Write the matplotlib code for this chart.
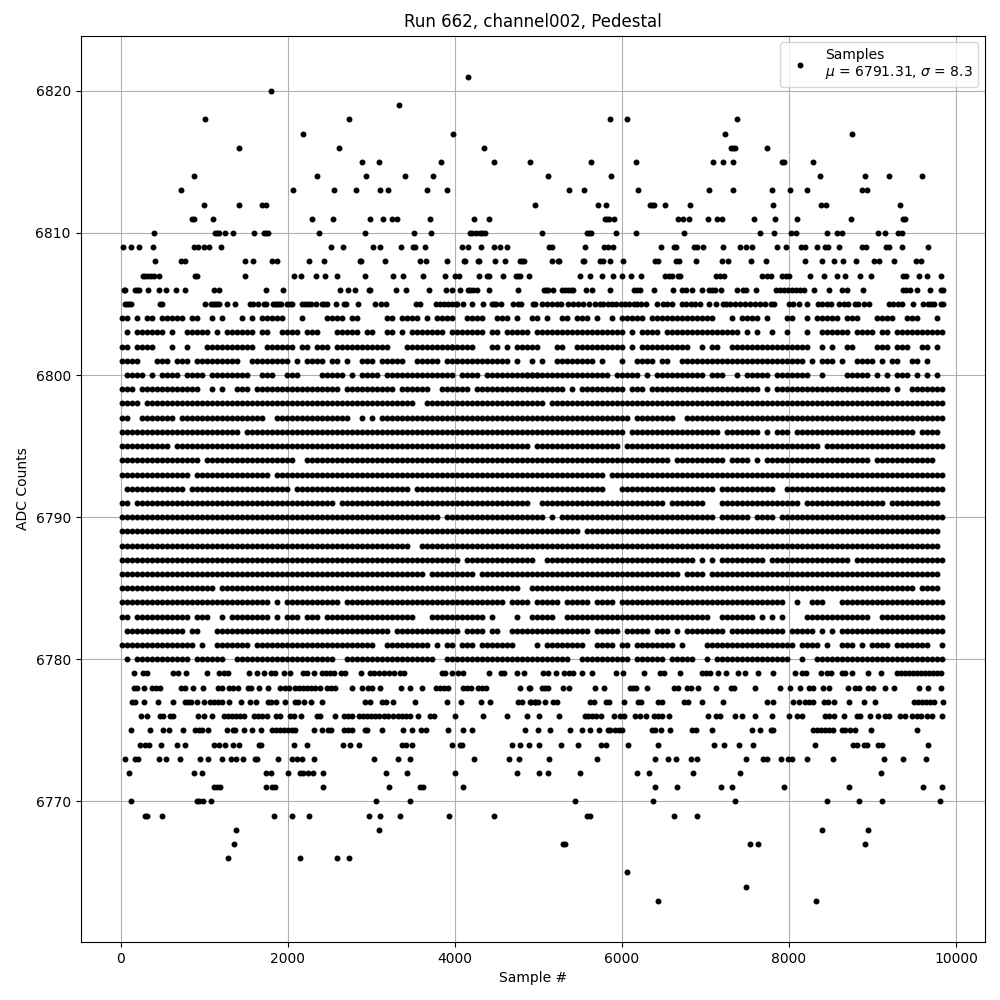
import matplotlib
matplotlib.use("Agg")
import matplotlib.pyplot as plt

title = "Run 662, channel002, Pedestal"
x_label = "Sample #"
y_label = "ADC Counts"
legend_label = "Samples\n$\\mu$ = 6791.31, $\\sigma$ = 8.3"

# Sparse ADC levels: sample numbers
s6821 = [4160]
s6820 = [1796]
s6819 = [3332]
s6818 = [1016, 2732, 5856, 6060, 7380]
s6817 = [2180, 3980, 7236, 8760]
s6816 = [1424, 2612, 4352, 7308, 7332, 7356, 7740]
s6815 = [2888, 3092, 3836, 4472, 4904, 5628, 6168, 7092, 7212, 7332, 7920, 7944, 8292]
s6814 = [884, 2348, 2936, 3404, 3740, 5112, 5868, 8376, 8916, 9192, 9588]
s6813 = [728, 2060, 2552, 2816, 3104, 3200, 3668, 3908, 5364, 5544, 6192, 7044, 7332, 7800, 8016, 8220, 8880, 8940]
s6812 = [1004, 1424, 1688, 1736, 4964, 5712, 5808, 6336, 6360, 6384, 6516, 6816, 7812, 8388, 8448, 9324]
s6811 = [860, 876, 1112, 2288, 2540, 2984, 3140, 3248, 3308, 3704, 4232, 4412, 5800, 5824, 5844, 5904, 6672,
         6732, 6804, 7032, 7140, 7200, 7584, 7836, 8100, 8748, 9360, 9384]
s6810 = [404, 1128, 1152, 1176, 1256, 1352, 1592, 1720, 1744, 1768, 2372, 2924, 3512, 3716, 4184, 4208, 4256, 4304,
         4328, 4364, 5040, 5580, 5604, 5628, 5928, 6168, 6744, 7656, 7824, 8028, 8088, 8460, 8580, 8640, 9072, 9156,
         9300, 9348]
s6809 = [32, 128, 224, 392, 884, 932, 1004, 1064, 1208, 2516, 2660, 3020, 3104, 3356, 3500, 3524, 3644, 4088, 4160,
         4316, 4472, 4544, 4628, 5124, 5160, 5556, 5784, 5832, 5892, 6468, 6624, 6648, 6864, 6900, 6972, 7212, 7416,
         7488, 7560, 7860, 7968, 8148, 8196, 8340, 8436, 8472, 8604, 8880, 8928, 9168, 9192, 9348, 9660]
s6808 = [416, 728, 776, 1484, 1580, 1808, 1868, 2252, 2432, 2864, 2876, 3164, 3584, 3656, 3908, 4112, 4124, 4280,
         4292, 4484, 4604, 4784, 4808, 4832, 5160, 5232, 5244, 5532, 5544, 5736, 5772, 5856, 6012, 6396, 6432, 6648,
         6684, 6888, 7200, 7272, 7548, 7728, 8196, 8400, 8544, 8652, 8808, 9024, 9084, 9252, 9516, 9576]
s6807 = [272, 296, 332, 368, 404, 464, 896, 920, 1484, 2072, 2156, 2336, 2444, 2588, 2924, 3260, 3380, 3620, 3884,
         4004, 4052, 4292, 4388, 4412, 4580, 4736, 4760, 4784, 4892, 5496, 5616, 5760, 5892, 6000, 6108, 6228, 6516,
         6564, 6600, 6672, 6696, 7128, 7176, 7224, 7680, 7740, 7788, 7920, 7968, 8004, 8256, 8424, 8580, 8676, 8856,
         8988, 9360, 9396, 9552, 9648, 9816]
s6806 = [44, 56, 176, 200, 224, 332, 464, 548, 668, 776, 1124, 1184, 1736, 1940, 2624, 2720, 2804, 2972, 2984, 3296,
         3416, 3692, 3896, 3968, 4064, 4160, 4184, 4220, 4268, 4412, 4760, 5064, 5088, 5112, 5172, 5280, 5316, 5352,
         5388, 5412, 5568, 5640, 5856, 6144, 6180, 6216, 6384, 6612, 6720, 6768, 6840, 6960, 7044, 7080, 7116, 7188,
         7380, 7452, 7488, 7608, 7848, 7896, 7944, 7992, 8040, 8088, 8136, 8184, 8304, 8484, 8640, 8700, 8892, 9360,
         9396, 9444, 9528, 9684, 9816, 9840]
s6805 = [56, 80, 104, 128, 476, 500, 1016, 1088, 1112, 1136, 1160, 1184, 1280, 1376, 1544, 1580, 1640, 1712, 1736,
         1820, 1844, 1868, 1892, 1916, 1988, 2024, 2048, 2168, 2204, 2240, 2276, 2336, 2408, 2432, 2468, 2576, 2672,
         2696, 2840, 3044, 3116, 3176, 3536, 3584, 3776, 3824, 3872, 3920, 3968, 4016, 4032, 4100, 4208, 4340, 4448,
         4472, 4496, 4556, 4700, 4760, 4796, 4940, 4964, 5050, 5100, 5170, 5220, 5270, 5350, 5410, 5470, 5540, 5610,
         5680, 5740, 5780, 5830, 5880, 5930, 5990, 6040, 6090, 6140, 6180, 6230, 6290, 6420, 6490, 6540, 6600, 6720,
         6770, 6830, 6880, 6940, 7040, 7130, 7210, 7250, 7300, 7360, 7420, 7480, 7540, 7590, 7650, 7710, 7780, 7820,
         8000, 8050, 8120, 8220, 8350, 8400, 8450, 8500, 8600, 8660, 8710, 8790, 8830, 8900, 8960, 9200, 9250, 9300,
         9350, 9480, 9600, 9660, 9700, 9740, 9820, 9840]
s6779 = [164, 272, 320, 632, 692, 788, 1040, 1184, 1244, 1292, 1532, 1628, 1720, 1796, 1844, 1952, 2024, 2180, 2228,
         2312, 2408, 2456, 2504, 2552, 2636, 2684, 2876, 2984, 3032, 3092, 3152, 3212, 3272, 3344, 3392, 3848, 3884,
         3968, 4040, 4100, 4412, 4556, 4592, 4748, 4832, 5052, 5112, 5208, 5304, 5364, 5412, 5520, 5640, 5928, 6012,
         6264, 6456, 6504, 6696, 6960, 7008, 7056, 7152, 7248, 7392, 7476, 7632, 7812, 8076, 8160, 8208, 8388, 8460,
         8508, 8640, 8676, 8760, 8952, 9108, 9288, 9336, 9384, 9432, 9480, 9528, 9576, 9624, 9672, 9720, 9768, 9816]
s6778 = [164, 200, 284, 380, 428, 476, 728, 776, 872, 992, 1172, 1220, 1304, 1352, 1412, 1520, 1556, 1652, 1760, 1912,
         1964, 2012, 2084, 2132, 2180, 2228, 2276, 2324, 2384, 2468, 2516, 2564, 2768, 2888, 2960, 3008, 3104, 3356,
         3464, 3608, 3776, 3824, 3872, 3920, 4100, 4148, 4196, 4280, 4328, 4376, 4784, 4892, 4904, 5048, 5084, 5120,
         5292, 5364, 5676, 5784, 6096, 6132, 6168, 6300, 6624, 6672, 6780, 6828, 6912, 7128, 7308, 7344, 7596, 7896,
         8016, 8136, 8244, 8292, 8412, 8484, 8712, 8796, 8844, 8952, 9012, 9156, 9252, 9552, 9660, 9816]
s6777 = [140, 172, 280, 452, 632, 776, 812, 848, 920, 1004, 1076, 1124, 1172, 1220, 1304, 1448, 1544, 1616, 1760, 1796,
         1856, 1964, 2084, 2120, 2192, 2276, 2408, 2924, 2984, 3128, 3176, 3260, 3524, 3912, 4076, 4320, 4424, 4760,
         4808, 4904, 4964, 4908, 4956, 4992, 5076, 5172, 5220, 5616, 5664, 5808, 5844, 6024, 6192, 6228, 6432, 6480,
         6744, 6792, 6960, 7212, 7740, 7812, 8052, 8124, 8196, 8244, 8292, 8424, 8472, 8544, 8724, 8904, 9036, 9492,
         9540, 9588, 9636, 9684, 9732, 9840]
s6776 = [248, 320, 476, 512, 596, 632, 932, 1004, 1100, 1244, 1292, 1340, 1388, 1436, 1472, 1592, 1640, 1688, 1748,
         1856, 1904, 2024, 2072, 2156, 2348, 2384, 2564, 2672, 2720, 2768, 2852, 2900, 2948, 2996, 3044, 3092, 3152,
         3200, 3260, 3320, 3368, 3416, 3464, 3560, 3704, 3752, 4004, 4340, 4628, 4868, 5004, 5244, 5556, 5592, 5640,
         5688, 5748, 5904, 5976, 6024, 6156, 6216, 6288, 6384, 6432, 6480, 6564, 7032, 7128, 7176, 7356, 7440, 7596,
         7800, 8004, 8100, 8160, 8436, 8484, 8544, 8664, 8820, 8856, 8976, 9072, 9156, 9192, 9324, 9384, 9468, 9528,
         9576, 9648, 9708, 9828]
s6775 = [128, 356, 512, 584, 752, 896, 944, 980, 1052, 1280, 1352, 1376, 1472, 1568, 1676, 1808, 1856, 1904, 1952, 2000,
         2048, 2084, 2312, 2408, 2480, 2516, 2672, 2720, 2768, 2924, 2948, 3128, 3380, 3488, 3596, 3656, 3920, 4100,
         4208, 4844, 4992, 5136, 5376, 5520, 5616, 5724, 5832, 5856, 5916, 5964, 6000, 6360, 6396, 6468, 6576, 6840,
         6888, 7080, 7560, 7656, 7788, 7812, 8292, 8340, 8388, 8436, 8484, 8532, 8640, 8676, 8736, 8796, 8988, 9528]
s6774 = [236, 296, 344, 488, 680, 776, 1124, 1184, 1256, 1352, 1424, 1652, 1676, 2072, 2236, 2660, 2744, 2852, 3368,
         3416, 3488, 3968, 4064, 4088, 4688, 4784, 4892, 5012, 5268, 5472, 5748, 5808, 6072, 6432, 7104, 7224, 7404,
         7572, 8316, 8772, 8820, 8904, 8940, 9072, 9120, 9660]
s6773 = [56, 176, 212, 464, 548, 716, 956, 1052, 1220, 1328, 1388, 1460, 1604, 1628, 1880, 2048, 2108, 2168, 2316,
         3032, 3320, 3464, 4232, 4652, 4772, 5124, 5700, 6396, 6552, 6648, 6828, 6900, 7488, 7692, 7740, 7908, 7992,
         8040, 8220, 8532, 9144, 9360, 9636]
s6772 = [104, 884, 980, 1736, 1796, 2000, 2144, 2180, 2240, 2300, 2420, 3176, 3428, 4004, 4748, 5004, 5112, 5496, 6180,
         6324, 6852, 7416, 9108]
s6771 = [1124, 1160, 1196, 1736, 1808, 1844, 2420, 3212, 3584, 3620, 4100, 6396, 6660, 7188, 7320, 7944, 8724, 9600, 9828]
s6770 = [128, 920, 944, 992, 1088, 3056, 3464, 5436, 6372, 7356, 8460, 8844, 9120, 9804]
s6769 = [296, 312, 500, 1832, 2048, 2252, 2972, 3104, 3344, 3932, 4472, 5580, 5616, 6624, 6900]
s6768 = [1388, 3092, 8400, 8952]
s6767 = [1364, 5292, 5316, 7536, 7632, 8916]
s6766 = [1292, 2144, 2588, 2732]
s6765 = [6060]
s6764 = [7488]
s6763 = [6432, 8328]

# Dense ADC levels: occupied 60-sample bins
d6804 = "0 1 3 5-6 8-12 14-15 18 20 24 26 28-29 30-31 32 36 41-44 46-47 53-54 56-59 61 63 64-66 69-72 75-77 79 82-83 85 88-89 91-93 95 98 100-104 106 107-111 112-116 117-118 122 124-127 129 133-134 137 139-141 142-143 145-147 151-152 153-154 157-159 163"
d6803 = "1 3 4-6 7 8 10 13-14 15-17 19 21-26 28 29 32-35 37-39 43 44-47 49-50 53-54 56 58 59-64 66-69 70-72 74-75 77-81 83-85 86-87 88-91 92-97 98-100 102 104-107 109-123 125 127 130 133 137 140-145 147-150 152 153 155-156 157-164"
d6802 = "0-1 3-6 10 13 17-26 29-34 36-37 39-41 43-48 49-53 57-66 66-70 74-75 77 79-82 83 87 88 91-100 102 104-113 116 118-119 122-125 126-137 140 142 145-146 151 152-153 155-157 160-161 163"
d6801 = "0 1-3 7-8 9 11-12 13 15-16 17-19 20-22 23 26-28 29 30-33 35 37-39 40 42 43 45 48 49-50 52-55 56 59-63 65-70 71-75 76 77 79 82 84 87-94 96 100 103-104 105-106 108-109 112-121 122-126 127-136 138 140-142 144 147-150 152 154-155 158-159 161"
d6800 = "1-4 6 8-11 13-16 18-25 28-30 33 34-35 40-44 46 48-49 50-51 53-56 57-59 60-66 68-70 71 73-77 78-83 81-90 91-96 97 99-103 105 107-116 118-119 120 123 125-129 131-137 140 145-149 151 153 155-157 159 161 163"
d6799 = "0-2 4-8 9-10 11-15 18 20 23-25 27-30 31-33 34-43 45-48 49-53 54 56 57-60 61 64-69 71-76 77-83 84-88 90 92-96 97-100 102-104 106-113 114-115 116-121 122-124 125-126 127 129 131-135 136-145 146-148 149-152 153 155 158-164"
d6798 = "0-1 2-3 5-14 15-28 29-31 32-56 57-58 61-65 66-83 84 86-106 107-108 109-111 112-131 132-164"
d6797 = "0 1 4-10 12-26 27-28 31-34 35-37 38-45 48 50 52-68 69-94 95-97 98-101 103 104-109 110 113-118 119-124 125-136 137-145 146-151 152-154 155-158 159-164"
d6796 = "0-2 3-15 16-20 21-23 25-28 29-33 34-35 36-39 40-46 47-68 69-72 73-88 89-96 97-100 102-113 114-117 118-119 121 122-127 129 131 132-133 135 136-137 138-143 144-152 153-154 155-158 160-163"
d6795 = "0-3 4-6 7-9 11-28 29-41 42-43 44-47 48-54 55-64 65 66-72 73-81 83-90 91-95 96-99 101-115 116-118 119-123 124-132 133-139 141-143 144-155 156-164"
d6794 = "0 1-4 5-15 17-24 25-27 28-34 37-84 85-92 93-109 111 112-120 122-125 127 129-131 132-142 143-149 151-162"
d6793 = "0-12 13 15-22 23-29 31-32 33-42 43-75 76 77-93 94-96 98 99-106 107-120 121-127 128-141 142-164"
d6792 = "1 2-12 14-16 17-33 35-36 37 38-40 41 42-56 57 59-80 81-96 100-118 120-122 123-130 133-139 140-156 157-164"
d6791 = "0-1 3-18 19-23 24-35 36-42 44-52 53-59 60-71 72-75 76-80 81 84-91 92-93 94-108 110-116 120-128 129-135 137-147 148-149 150-152 154-157 158-163"
d6790 = "0-2 3-7 8-9 10-37 38-42 43-53 54-58 59 60-63 65-70 71-84 86 88-92 93-107 108-110 111-118 120-123 124-125 127 128-129 130 132-164"
d6789 = "0-8 9-19 20-21 22-41 42-67 68-91 93-105 106-111 112-114 115-157 158-163"
d6788 = "0-7 8-17 18-56 57 60-61 62-89 90-101 102-113 114-139 140-158 159-163"
d6787 = "0-4 5-22 23 24-27 28-30 31-40 41-50 51-57 58-63 64-67 69-72 73-82 85-90 91-105 106-114 116 118 120 121-128 130-145 147-150 151 152-154 155-164"
d6786 = "0-8 9-60 62-70 72-111 113-116 118-133 134-150 151-163"
d6785 = "0-18 20-24 25-39 40-47 48-60 61-65 66-73 74-79 82 83-92 93-100 101-113 114-124 125-127 128-149 150-158 160-163"
d6784 = "0-4 5-19 20-27 28-29 31 33-37 38-42 43 45-54 55-58 59-76 78-80 81 83-87 89 90-91 92-93 95-98 100 101-103 104-109 110-113 114-124 125-128 129-132 135 138 139-140 144 145-147 148-153 154-164"
d6783 = "0-1 3-9 10-12 13 15-16 17 20 22-27 28-29 31 33-35 37-39 41-44 45-49 50-58 62-72 74 79 82-85 86 89 90-93 94-95 96-100 101-102 103-104 105-117 120-123 124-125 126 128 130 132 137-139 140-143 144-146 147-149 152 153-156 157 158-161 162-164"
d6782 = "1-12 14 15 19-24 25-35 36-44 45-53 55-57 58-67 69-72 74-75 78-79 80-83 84-87 88-93 95 96-99 101-105 107-109 111 113-117 118-120 122-123 124 125-132 134-138 140 142 144 145-154 155-158 159-164"
d6781 = "0-4 5-14 16 19-20 21 22-25 27-37 38-42 43 44-50 53-61 63 65-66 68-70 72-75 76-78 83 85-92 95-98 100-101 103-110 112 117-119 120-123 124-134 136-139 141 144-146 148 150-153 155-157 158-161 164"
d6780 = "1 3-13 15-20 23-30 31-39 40-42 45-62 65-83 84-87 88-89 92 93-95 96-100 101 103-105 106-108 110-114 117 119-121 122-126 127-133 136 139-148 149-155 156-160 161-164"

sparse_levels = [
    (6821, s6821), (6820, s6820), (6819, s6819), (6818, s6818), (6817, s6817), (6816, s6816), (6815, s6815),
    (6814, s6814), (6813, s6813), (6812, s6812), (6811, s6811), (6810, s6810), (6809, s6809), (6808, s6808),
    (6807, s6807), (6806, s6806), (6805, s6805), (6779, s6779), (6778, s6778), (6777, s6777), (6776, s6776),
    (6775, s6775), (6774, s6774), (6773, s6773), (6772, s6772), (6771, s6771), (6770, s6770), (6769, s6769),
    (6768, s6768), (6767, s6767), (6766, s6766), (6765, s6765), (6764, s6764), (6763, s6763),
]
dense_levels = [
    (6804, d6804), (6803, d6803), (6802, d6802), (6801, d6801), (6800, d6800), (6799, d6799), (6798, d6798),
    (6797, d6797), (6796, d6796), (6795, d6795), (6794, d6794), (6793, d6793), (6792, d6792), (6791, d6791),
    (6790, d6790), (6789, d6789), (6788, d6788), (6787, d6787), (6786, d6786), (6785, d6785), (6784, d6784),
    (6783, d6783), (6782, d6782), (6781, d6781), (6780, d6780),
]

samples, counts = [], []
for level, xs in sparse_levels:
    samples += xs
    counts += [level] * len(xs)
for level, text in dense_levels:
    for token in text.split():
        first, _, last = token.partition("-")
        for b in range(int(first), int(last or first) + 1):
            samples.append(20 + 59.8 * b)
            counts.append(level)

fig, ax = plt.subplots(figsize=(10, 10), dpi=100)
ax.plot(samples, counts, "k.", markersize=6.5, label=legend_label)
ax.set_title(title)
ax.set_xlabel(x_label)
ax.set_ylabel(y_label)
ax.set_xlim(-479, 10347)
ax.set_ylim(6760.1, 6823.9)
ax.grid(True)
ax.legend(loc="upper right")
fig.subplots_adjust(left=0.0805, right=0.985, top=0.9645, bottom=0.058)
fig.savefig("out.png", dpi=100)
